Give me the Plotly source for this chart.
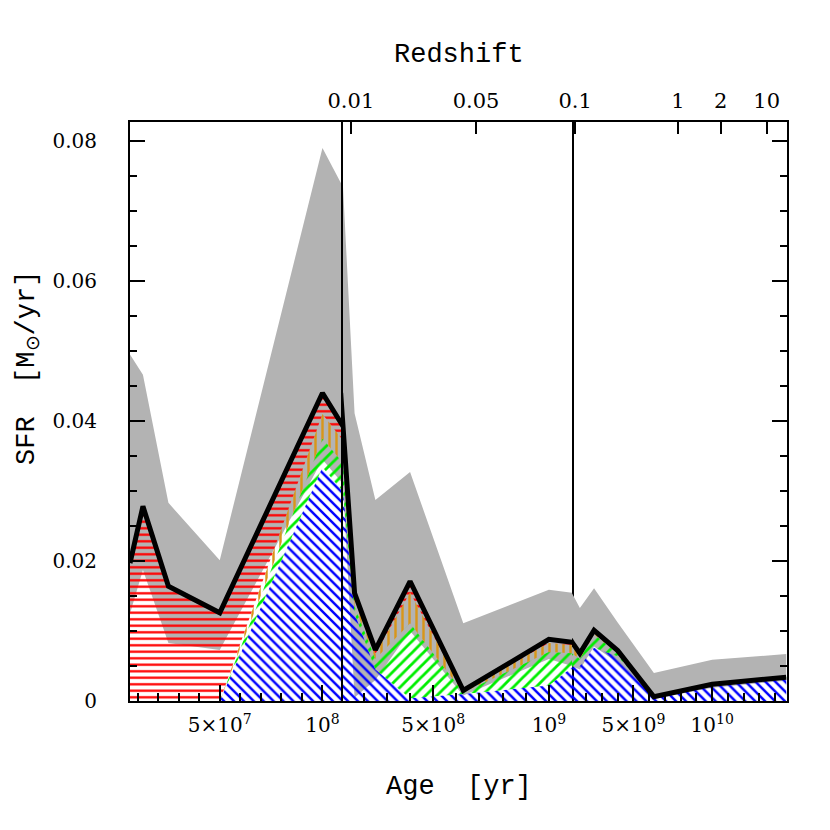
import numpy as np
import plotly.graph_objects as go

# age bins [yr] and star formation rates [Msun/yr]
age = [6.3e6, 1.26e7, 2.5e7, 5e7, 1e8, 1.1e8, 1.6e8, 2.5e8, 4e8, 6.3e8,
       1e9, 1.1e9, 1.6e9, 2.5e9, 4e9, 6.3e9, 1e10, 1.47e10]

sfr_blue = [0, 0, 0, 0, 0.0334, 0.0300, 0.0125, 0.0045, 0.0004, 0.0010,
            0.0022, 0.0048, 0.0050, 0.0076, 0.0064, 0.0006, 0.0023, 0.0033]
sfr_green = [0, 0, 0, 0, 0.0041, 0.0040, 0.0010, 0.0015, 0.0107, 0.0002,
             0.0048, 0.0020, 0.0010, 0.0019, 0.0004, 0, 0.0001, 0.0001]
sfr_orange = [0, 0, 0, 0, 0.0035, 0.0032, 0.0010, 0.0007, 0.0044, 0.0002,
              0.0013, 0.0012, 0.0004, 0.0003, 0.0002, 0, 0, 0]
sfr_red = [0.0197, 0.0278, 0.0164, 0.0126, 0.0030, 0.0021, 0.0009, 0.0006, 0.0016, 0.0001,
           0.0005, 0.0004, 0.0004, 0.0003, 0.0002, 0, 0, 0]

sfr_low = [0.0125, 0.0187, 0.0083, 0.0073, 0.0345, 0.0310, 0.0005, 0.0030, 0.0100, 0.0008,
           0.0060, 0.0050, 0.0045, 0.0078, 0.0055, 0.0003, 0.0019, 0.0029]
sfr_high = [0.0495, 0.0466, 0.0283, 0.0201, 0.0790, 0.0734, 0.0411, 0.0287, 0.0327, 0.0111,
            0.0159, 0.0154, 0.0133, 0.0161, 0.0112, 0.0040, 0.0059, 0.0067]

# broken x axis: three linear pieces
seg_ranges = [[6.3e6, 1.1e8], [1.1e8, 1.1e9], [1.1e9, 1.475e10]]
seg_ticks = [[5e7, 1e8], [5e8, 1e9], [5e9, 1e10]]
seg_ticktext = [["5×10<sup>7</sup>", "10<sup>8</sup>"],
                ["5×10<sup>8</sup>", "10<sup>9</sup>"],
                ["5×10<sup>9</sup>", "10<sup>10</sup>"]]
seg_minor = [1e7, 1e8, 1e9]

# redshift ticks (lookback time) on top
z_ticks_b = [1.44e8, 6.85e8]
z_text_b = ["0.01", "0.05"]
z_ticks_c = [1.3e9, 7.82e9, 1.054e10, 1.346e10]
z_text_c = ["0.1", "1", "2", "10"]

comps = [
    (sfr_blue, "#0000ff", "\\", 7),
    (sfr_green, "#00ee00", "/", 8),
    (sfr_orange, "#d8961a", "|", 7),
    (sfr_red, "#ff0000", "-", 6.5),
]

total = np.sum([np.array(c[0]) for c in comps], axis=0)

fig = go.Figure()
pairs = [("x", "y"), ("x2", "y2"), ("x3", "y3")]
for xa, ya in pairs:
    fig.add_trace(go.Scatter(x=age, y=sfr_low, mode="lines", line=dict(width=0),
                             xaxis=xa, yaxis=ya, showlegend=False, hoverinfo="skip"))
    fig.add_trace(go.Scatter(x=age, y=sfr_high, mode="lines", line=dict(width=0),
                             fill="tonexty", fillcolor="#b3b3b3",
                             xaxis=xa, yaxis=ya, showlegend=False, hoverinfo="skip"))
    cum = np.zeros(len(age))
    for i, (vals, col, shape, sz) in enumerate(comps):
        cum = cum + np.array(vals)
        fig.add_trace(go.Scatter(
            x=age, y=cum, mode="lines", line=dict(width=0),
            fill="tozeroy" if i == 0 else "tonexty",
            fillcolor=col,
            fillpattern=dict(shape=shape, fgcolor=col, bgcolor="rgba(0,0,0,0)",
                             fgopacity=1, size=sz, solidity=0.35),
            xaxis=xa, yaxis=ya, showlegend=False, hoverinfo="skip"))
    fig.add_trace(go.Scatter(x=age, y=total, mode="lines",
                             line=dict(color="black", width=5),
                             xaxis=xa, yaxis=ya, showlegend=False))

# dummy traces so the redshift axes exist
fig.add_trace(go.Scatter(x=[None], y=[None], xaxis="x4", yaxis="y2", showlegend=False))
fig.add_trace(go.Scatter(x=[None], y=[None], xaxis="x5", yaxis="y3", showlegend=False))

tick_font = dict(family="DejaVu Serif", size=20, color="black")
b1 = (343 - 130) / 657
b2 = (572 - 130) / 657
doms = [[0, b1], [b1, b2], [b2, 1]]

yr = [0, 0.0827]
layout = dict(
    width=830, height=830,
    margin=dict(l=122, r=51, t=114, b=137),
    paper_bgcolor="white", plot_bgcolor="white",
    font=tick_font,
)
for i in range(3):
    key = "xaxis" if i == 0 else f"xaxis{i+1}"
    layout[key] = dict(
        domain=doms[i], range=seg_ranges[i], anchor="y" if i == 0 else f"y{i+1}",
        showgrid=False, zeroline=False, showline=True, mirror=True,
        linecolor="black", linewidth=2,
        tickmode="array", tickvals=seg_ticks[i], ticktext=seg_ticktext[i],
        ticks="inside", ticklen=16, tickwidth=1.5, tickcolor="black",
        ticklabelstandoff=5,
        minor=dict(dtick=seg_minor[i], tick0=0, ticks="inside", ticklen=8,
                   tickwidth=1.5, tickcolor="black", showgrid=False),
    )

layout["yaxis"] = dict(
    domain=[0, 1], range=yr, anchor="x", showgrid=False, zeroline=False,
    showline=True, linecolor="black", linewidth=2,
    dtick=0.02, tick0=0, ticks="inside", ticklen=15, tickwidth=1.5, tickcolor="black",
    ticklabelstandoff=27,
    minor=dict(dtick=0.005, tick0=0, ticks="inside", ticklen=7, tickwidth=1.5,
               tickcolor="black", showgrid=False),
)
layout["yaxis2"] = dict(
    domain=[0, 1], range=yr, anchor="x2", showgrid=False, zeroline=False,
    showline=True, mirror=True, linecolor="black", linewidth=1.5,
    ticks="", showticklabels=False,
)
layout["yaxis3"] = dict(
    domain=[0, 1], range=yr, anchor="x3", side="right", showgrid=False, zeroline=False,
    showline=True, linecolor="black", linewidth=2,
    dtick=0.02, tick0=0, ticks="inside", ticklen=15, tickwidth=1.5, tickcolor="black",
    showticklabels=False,
    minor=dict(dtick=0.005, tick0=0, ticks="inside", ticklen=7, tickwidth=1.5,
               tickcolor="black", showgrid=False),
)
top_axis = dict(side="top", showgrid=False, zeroline=False, showline=False,
                tickmode="array", ticks="inside", ticklen=12, tickwidth=1.5,
                tickcolor="black", ticklabelstandoff=9,
                tickfont=dict(family="DejaVu Serif", size=21, color="black"))
layout["xaxis4"] = dict(top_axis, overlaying="x2", anchor="y2", range=seg_ranges[1],
                        tickvals=z_ticks_b, ticktext=z_text_b)
layout["xaxis5"] = dict(top_axis, overlaying="x3", anchor="y3", range=seg_ranges[2],
                        tickvals=z_ticks_c, ticktext=z_text_c)

title_font = dict(family="Liberation Mono", size=27, color="black")
layout["annotations"] = [
    dict(text="Redshift", xref="paper", yref="paper", x=0.5, y=1.116,
         showarrow=False, font=title_font, xanchor="center", yanchor="middle"),
    dict(text="Age\u00a0\u00a0[yr]", xref="paper", yref="paper", x=0.5, y=-0.1485,
         showarrow=False, font=title_font, xanchor="center", yanchor="middle"),
    dict(text="SFR\u00a0\u00a0[M<sub>⊙</sub>/yr]", xref="paper", yref="paper",
         x=-0.154, y=0.575, textangle=-90,
         showarrow=False, font=title_font, xanchor="center", yanchor="middle"),
]

fig.update_layout(**layout)
fig.write_html("out.html")
